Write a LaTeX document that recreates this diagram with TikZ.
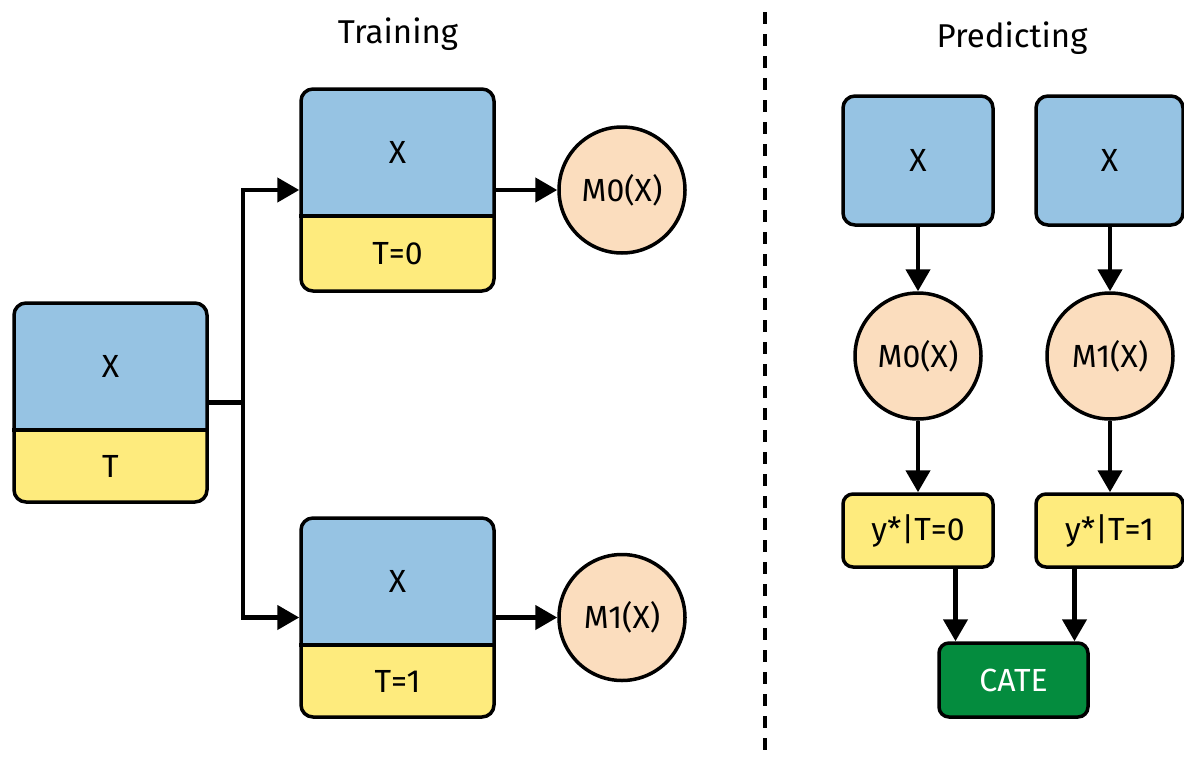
\documentclass[tikz,border=0pt]{standalone}
\usepackage{fontspec}
\setmainfont{Fira Sans}
\usetikzlibrary{arrows.meta,fit,calc}
\definecolor{cblue}{RGB}{150,195,227}
\definecolor{cyellow}{RGB}{254,235,125}
\definecolor{cpeach}{RGB}{251,221,190}
\definecolor{cgreen}{RGB}{4,140,62}
\tikzset{
  outline/.style={draw=black, line width=3.5pt, rounded corners=12pt, inner sep=0pt},
  lbl/.style={font=\fontsize{32}{34}\selectfont, inner sep=0pt},
  ttl/.style={font=\fontsize{33}{36}\selectfont, inner sep=0pt},
  conn/.style={line width=4.5pt, -{Triangle[length=22pt,width=24pt]}},
  plainline/.style={line width=4.5pt},
  circ/.style={circle, draw=black, line width=3.5pt, fill=cpeach, minimum size=126pt, inner sep=0pt, lbl},
  divider/.style={line width=4.5pt, dash pattern=on 12pt off 10pt},
}
% name, x1, y1, x2, y2, ysplit, top text, bottom text
\newcommand{\splitbox}[8]{%
  \begin{scope}
    \clip[rounded corners=12pt] (#2,#3) rectangle (#4,#5);
    \fill[cblue] (#2,#3) rectangle (#4,#6);
    \fill[cyellow] (#2,#6) rectangle (#4,#5);
  \end{scope}
  \node[outline, fit={(#2,#3) (#4,#5)}] (#1) {};
  \draw[line width=3.5pt] (#1.west |- 0,#6) -- (#1.east |- 0,#6);
  \node[lbl] (#1top) at ($(#2,#3)!0.5!(#4,#6)$) {#7};
  \node[lbl] (#1bot) at ($(#2,#6)!0.5!(#4,#5)$) {#8};
}
\begin{document}
\begin{tikzpicture}[x=1pt,y=-1pt]
\useasboundingbox (0,0) rectangle (1184,758);
% Titles
\node[ttl] (train) at (398,34) {Training};
\node[ttl] (pred) at (1012,38) {Predicting};
% Divider
\draw[divider] (765,12) -- (765,758);
% Training side
\splitbox{L}{14}{303}{207}{502}{430}{X}{T}
\splitbox{A}{301}{89}{494}{291}{216}{X}{T=0}
\splitbox{B}{301}{518}{494}{717}{645}{X}{T=1}
\node[circ] (M0) at (622,190) {M0(X)};
\node[circ] (M1) at (622,617.5) {M1(X)};
\coordinate (J) at (243,402.5);
\draw[plainline] (L.east) -- (J);
\draw[conn] (J) |- (A.west);
\draw[conn] (J) |- (B.west);
\draw[conn] (A.east) -- (M0.west);
\draw[conn] (B.east) -- (M1.west);
% Predicting side
\node[outline, fill=cblue, fit={(843,96) (993,225)}] (P0) {};
\node[lbl] at (P0) {X};
\node[outline, fill=cblue, fit={(1036,96) (1183,225)}] (P1) {};
\node[lbl] at (P1) {X};
\node[circ] (C0) at (918,356) {M0(X)};
\node[circ] (C1) at (1110,356) {M1(X)};
\node[outline, rounded corners=10pt, fill=cyellow, fit={(843,494) (993,567)}] (Y0) {};
\node[lbl] at (Y0) {y*|T=0};
\node[outline, rounded corners=10pt, fill=cyellow, fit={(1036,494) (1183,567)}] (Y1) {};
\node[lbl] at (Y1) {y*|T=1};
\node[outline, rounded corners=10pt, fill=cgreen, fit={(939,643) (1088,717)}] (CATE) {};
\node[lbl, text=white] at (CATE) {CATE};
\draw[conn] (P0.south -| C0) -- (C0.north);
\draw[conn] (P1.south -| C1) -- (C1.north);
\draw[conn] (C0.south) -- (C0.south |- Y0.north);
\draw[conn] (C1.south) -- (C1.south |- Y1.north);
\draw[conn] ([xshift=-58pt]CATE.north |- Y0.south) -- ([xshift=-58pt]CATE.north);
\draw[conn] ([xshift=61pt]CATE.north |- Y1.south) -- ([xshift=61pt]CATE.north);
\end{tikzpicture}
\end{document}
